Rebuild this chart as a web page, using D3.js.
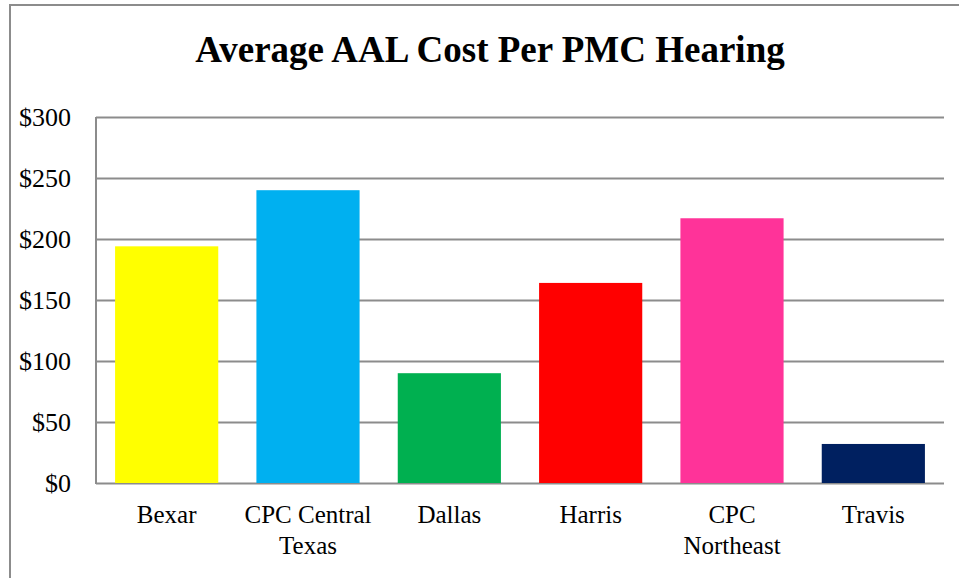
<!DOCTYPE html>
<html>
<head>
<meta charset="utf-8">
<script src="https://cdn.jsdelivr.net/npm/d3@7"></script>
<style>
  body { margin: 0; background: #fff; }
  text { font-family: "Liberation Serif", "DejaVu Serif", serif; fill: #000; }
</style>
</head>
<body>
<div id="chart"></div>
<script>
var categories = ["Bexar", "CPC Central Texas", "Dallas", "Harris", "CPC Northeast", "Travis"];
var values = [194, 240, 90, 164, 217, 32];
var colors = ["#ffff00", "#00b0f0", "#00b050", "#ff0000", "#ff3399", "#002060"];
var yTicks = [0, 50, 100, 150, 200, 250, 300];

var width = 959,
  height = 578;
var margin = { top: 117, right: 15, bottom: 95, left: 96 };

var svg = d3
  .select("#chart")
  .append("svg")
  .attr("width", width)
  .attr("height", height);

// frame of the chart box
svg.append("path")
  .attr("d", "M10," + height + "V5H" + width)
  .attr("fill", "none")
  .attr("stroke", "#8c8c8c")
  .attr("stroke-width", 2);

svg.append("text")
  .attr("x", 490)
  .attr("y", 62)
  .attr("text-anchor", "middle")
  .style("font-size", "37px")
  .style("font-weight", "bold")
  .text("Average AAL Cost Per PMC Hearing");

var x = d3
  .scaleBand()
  .domain(categories)
  .range([margin.left, width - margin.right])
  .paddingInner(0.27)
  .paddingOuter(0.135);

var y = d3
  .scaleLinear()
  .domain([0, 300])
  .range([height - margin.bottom, margin.top]);

// gridlines
svg.append("g")
  .selectAll("line")
  .data(yTicks)
  .enter()
  .append("line")
  .attr("x1", margin.left)
  .attr("x2", width - margin.right)
  .attr("y1", d => Math.round(y(d)) + 0.5)
  .attr("y2", d => Math.round(y(d)) + 0.5)
  .attr("stroke", "#8c8c8c")
  .attr("stroke-width", 2);

// y axis line
svg.append("line")
  .attr("x1", margin.left)
  .attr("x2", margin.left)
  .attr("y1", y(300))
  .attr("y2", y(0) + 1)
  .attr("stroke", "#8c8c8c")
  .attr("stroke-width", 2);

// y labels
svg.append("g")
  .selectAll("text")
  .data(yTicks)
  .enter()
  .append("text")
  .attr("x", 71)
  .attr("y", d => y(d))
  .attr("dy", "0.35em")
  .attr("text-anchor", "end")
  .style("font-size", "26px")
  .text(d => "$" + d);

// bars
svg.append("g")
  .selectAll("rect")
  .data(values)
  .enter()
  .append("rect")
  .attr("x", (d, i) => x(categories[i]))
  .attr("y", d => y(d))
  .attr("width", x.bandwidth())
  .attr("height", d => y(0) - y(d))
  .attr("fill", (d, i) => colors[i]);

// x labels, wrapped to the band step like excel does
var step = x.step();
var labels = svg.append("g")
  .selectAll("text")
  .data(categories)
  .enter()
  .append("text")
  .attr("text-anchor", "middle")
  .style("font-size", "25px")
  .attr("transform", d => "translate(" + (x(d) + x.bandwidth() / 2) + ",523)");

labels.each(function(d) {
  var t = d3.select(this);
  var words = d.split(" ");
  var lines = [];
  var line = [];
  var probe = t.append("tspan");
  words.forEach(w => {
    line.push(w);
    probe.text(line.join(" "));
    if (probe.node().getComputedTextLength() > step - 4 && line.length > 1) {
      line.pop();
      lines.push(line.join(" "));
      line = [w];
    }
  });
  lines.push(line.join(" "));
  probe.remove();
  lines.forEach((l, i) => {
    t.append("tspan")
      .attr("x", 0)
      .attr("y", i * 31)
      .text(l);
  });
});
</script>
</body>
</html>
